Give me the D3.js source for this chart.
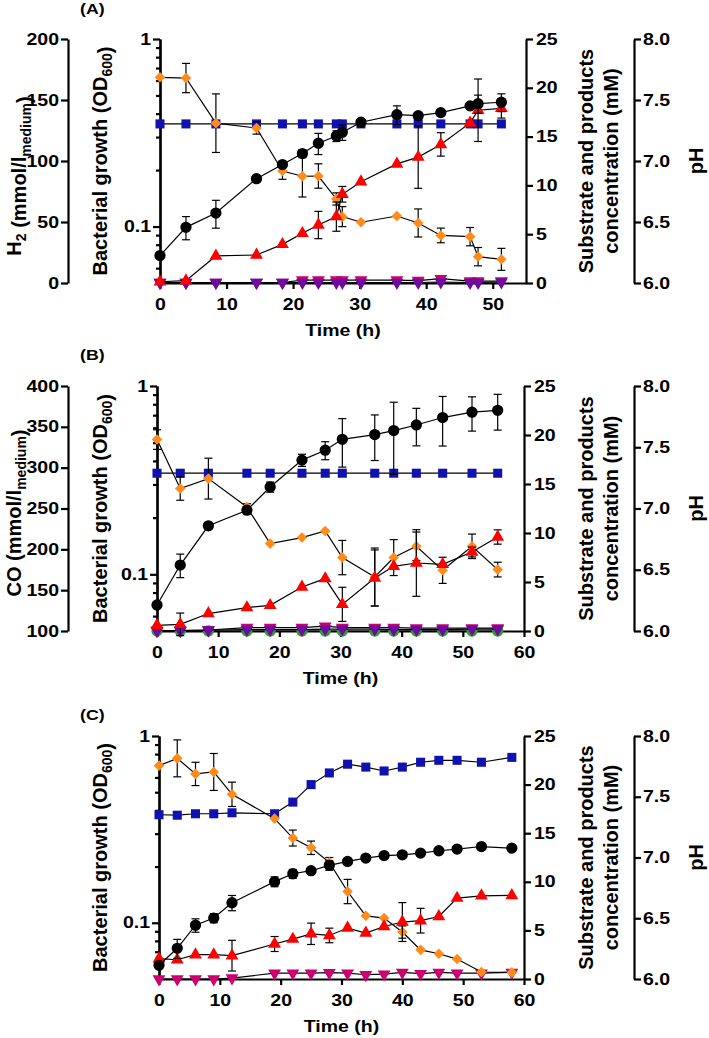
<!DOCTYPE html>
<html>
<head>
<meta charset="utf-8">
<script src="https://cdn.jsdelivr.net/npm/d3@7"></script>
<style>
body { margin: 0; background: #fff; }
svg text { font-family: "Liberation Sans", Arial, sans-serif; font-weight: bold; fill: #000; }
</style>
</head>
<body>
<svg id="chart" width="709" height="1038"></svg>
<script>
// ---- panel A (H2) ----
var tA = [0, 3.9, 8.4, 14.5, 18.4, 21.4, 23.8, 26.5, 27.4, 30.2, 35.6, 38.8, 42.2, 46.6, 47.8, 51.3];
var odA = [0.07, 0.099, 0.118, 0.18, 0.214, 0.245, 0.278, 0.304, 0.318, 0.36, 0.395, 0.39, 0.405, 0.44, 0.452, 0.46];
var odAErr = [0, 0.014, 0.02, 0, 0, 0.012, 0.036, 0.02, 0.03, 0, 0.045, 0, 0, 0, 0.05, 0.05];
var sqA = [16.3, 16.3, 16.3, 16.3, 16.3, 16.3, 16.3, 16.3, 16.3, 16.3, 16.3, 16.3, 16.3, 16.3, 16.3, 16.3];
var dmA = [168.6, 168, 131, 127, 91.8, 87.5, 87.7, 68.9, 54.4, 49.8, 54.9, 49.2, 39, 38, 21.6, 19.4];
var dmAErr = [0, 12, 24, 5, 6.8, 17, 10, 5, 8.2, 0, 0, 11.5, 6, 7.5, 7.5, 9];
var trA = [0.13, 0.24, 2.77, 2.87, 3.96, 5.09, 5.94, 6.8, 9.09, 10.38, 12.2, 12.9, 14.2, 16.4, 17.7, 17.9];
var trAErr = [0, 0, 0, 0, 0, 0, 1.4, 1.5, 0.8, 0, 0, 3.2, 1.2, 0, 3.2, 1];
var dnA = [0.05, 0.05, 0.05, 0.05, 0.05, 0.05, 0.05, 0.05, 0.05, 0.05, 0.05, 0.05, 0.1, 0.05, 0.05, 0.1];
var mgA = [0.05, 0.05, 0.05, 0.05, 0.05, 0.3, 0.3, 0.3, 0.3, 0.3, 0.3, 0.25, 0.45, 0.2, 0.2, 0.2];

// ---- panel B (CO) ----
var tB = [0, 3.8, 8.4, 14.7, 18.5, 23.7, 27.5, 30.3, 35.6, 38.7, 42.4, 46.7, 51.5, 55.7];
var odB = [0.0687, 0.112, 0.181, 0.219, 0.291, 0.404, 0.456, 0.521, 0.552, 0.58, 0.621, 0.68, 0.726, 0.743];
var odBErr = [0, 0.016, 0, 0.01, 0.018, 0.03, 0.05, 0.15, 0.15, 0.24, 0.14, 0.2, 0.15, 0.16];
var sqB = [16.1, 16.1, 16.1, 16.1, 16.1, 16.1, 16.1, 16.1, 16.1, 16.1, 16.1, 16.1, 16.1, 16.1];
var dmB = [334.4, 274.4, 286.6, 251.8, 207, 214.4, 222.5, 189.9, 166.1, 189.9, 203.7, 174.3, 203.7, 175.2];
var dmBErr = [12, 14.3, 25, 4, 0, 0, 0, 21, 35.5, 22, 17.5, 16, 15, 9];
var trB = [0.58, 0.68, 1.78, 2.39, 2.62, 4.49, 5.35, 2.72, 5.41, 6.6, 6.94, 6.8, 8.06, 9.59];
var trBErr = [0, 1.15, 0, 0, 0, 0, 0, 1.74, 2.86, 0, 3.4, 0, 0.5, 0.73];
var ciB = [0, 0, 0, 0, 0, 0, 0, 0, 0, 0, 0, 0, 0, 0];
var dnB = [0.05, 0.05, 0.1, 0.15, 0.15, 0.15, 0.2, 0.2, 0.2, 0.15, 0.15, 0.15, 0.2, 0.2];
var mgB = [0.05, 0.05, 0.1, 0.35, 0.35, 0.35, 0.5, 0.35, 0.35, 0.35, 0.3, 0.3, 0.3, 0.3];

// ---- panel C ----
var tC = [0, 3, 6, 9, 12, 19, 22, 25, 28, 31, 34, 37, 40, 43, 46, 49, 53, 58];
var odC = [0.0592, 0.073, 0.097, 0.106, 0.128, 0.166, 0.183, 0.19, 0.203, 0.213, 0.222, 0.229, 0.231, 0.236, 0.243, 0.248, 0.256, 0.251];
var odCErr = [0, 0.0085, 0.008, 0.006, 0.012, 0.01, 0.01, 0, 0.012, 0, 0, 0, 0, 0, 0, 0, 0, 0];
var sqC = [16.9, 16.85, 17.0, 17.0, 17.1, 17.0, 18.2, 20.0, 21.2, 22.1, 21.8, 21.4, 21.8, 22.3, 22.5, 22.5, 22.3, 22.8];
var dmC = [21.95, 22.7, 21.1, 21.3, 19.0, 16.5, 14.5, 13.5, 12.0, 9.0, 6.5, 6.27, 4.83, 3.0, 2.6, 2.05, 0.72, 0.68];
var dmCErr = [0, 1.9, 1.2, 1.9, 1.25, 0, 0.82, 0.69, 0.5, 1.25, 0, 0, 0.63, 0, 0, 0, 0, 0];
var trC = [2.09, 1.98, 2.5, 2.5, 2.4, 3.6, 4.1, 4.65, 4.48, 5.24, 4.73, 5.4, 5.86, 6.0, 6.43, 8.32, 8.56, 8.6];
var trCErr = [0, 0, 0, 0, 1.58, 0.77, 0, 1.1, 0.75, 0, 0, 0, 2.0, 1.27, 0, 0, 0, 0];
var mgC = [0, 0, 0, 0, 0.1, 0.6, 0.6, 0.6, 0.65, 0.6, 0.44, 0.5, 0.68, 0.55, 0.68, 0.6, 0.6, 0.68];

// tick labels
var xTicksA = [0, 10, 20, 30, 40, 50];
var xTicks = [0, 10, 20, 30, 40, 50, 60];
var odTicks = [0.1, 1];
var odMinor = [0.06, 0.07, 0.08, 0.09, 0.2, 0.3, 0.4, 0.5, 0.6, 0.7, 0.8, 0.9];
var concTicks = [0, 5, 10, 15, 20, 25];
var phTicks = [6.0, 6.5, 7.0, 7.5, 8.0];
var h2Ticks = [0, 50, 100, 150, 200];
var coTicks = [100, 150, 200, 250, 300, 350, 400];

var SX = 1.22; // upright text in the figure is stretched sideways
var svg = d3.select("#chart");

var colors = {
    black: "#000000",
    blue: "#1111b0",
    orange: "#ff8c1a",
    red: "#ff0000",
    purple: "#6e0aa0",
    magenta: "#cc0070",
    green: "#2ca02c"
};

function styleAxis(g) {
    g.select(".domain").attr("stroke-width", 2.2);
    g.selectAll(".tick line").attr("stroke-width", 2.2);
    g.selectAll("text").style("font-size", "16px").attr("transform", "scale(" + SX + ",1)");
}

function symbolPath(shape) {
    if (shape == "circle") return d3.symbol(d3.symbolCircle, 100)();
    if (shape == "square") return d3.symbol(d3.symbolSquare, 82)();
    if (shape == "diamond") return d3.symbol(d3.symbolSquare, 56)();
    return d3.symbol(d3.symbolTriangle, 72)();
}
function symbolRot(shape) {
    if (shape == "diamond") return 45;
    if (shape == "down") return 180;
    return 0;
}

function rotLabel(x, y, parts, size) {
    var t = svg.append("text")
        .attr("transform", "translate(" + x + "," + y + ") rotate(-90)")
        .attr("text-anchor", "middle")
        .attr("dy", "0.35em")
        .style("font-size", size + "px");
    parts.forEach(function(p) {
        if (p.sub) {
            t.append("tspan").attr("dy", 5).style("font-size", (size * 0.7) + "px").text(p.s);
            t.append("tspan").attr("dy", -5).text("");
        } else {
            t.append("tspan").text(p.s);
        }
    });
}

function flatText(x, y, s, size, anchor) {
    svg.append("text")
        .attr("transform", "translate(" + x + "," + y + ") scale(" + SX + ",1)")
        .attr("text-anchor", anchor || "middle")
        .attr("dy", "0.35em")
        .style("font-size", size + "px")
        .text(s);
}

function drawPanel(p) {
    var x = d3.scaleLinear().domain([0, p.xMax]).range([p.left, p.right]);
    var yOD = d3.scaleLog().domain([0.05, 1]).range([p.bottom, p.top]);
    var yConc = d3.scaleLinear().domain([0, 25]).range([p.bottom, p.top]);
    var yPH = d3.scaleLinear().domain([6, 8]).range([p.bottom, p.top]);
    var yGas = p.gas ? d3.scaleLinear().domain(p.gas.domain).range([p.bottom, p.top]) : null;
    var scales = { od: yOD, conc: yConc, gas: yGas };

    // x axis
    svg.append("g")
        .attr("transform", "translate(0," + p.bottom + ")")
        .call(d3.axisBottom(x).tickValues(p.xTicks).tickSize(6).tickSizeOuter(0).tickFormat(d3.format("d")))
        .call(styleAxis)
        .call(function(g) { g.selectAll("text").attr("y", 21).attr("dy", "0.35em"); });

    // OD axis (log)
    svg.append("g")
        .attr("transform", "translate(" + p.left + ",0)")
        .call(d3.axisLeft(yOD).tickValues(odMinor).tickSize(4).tickSizeOuter(0).tickFormat(""))
        .call(styleAxis);
    svg.append("g")
        .attr("transform", "translate(" + p.left + ",0)")
        .call(d3.axisLeft(yOD).tickValues(odTicks).tickSize(7).tickSizeOuter(0).tickFormat(d3.format("")))
        .call(styleAxis)
        .call(function(g) { g.selectAll("text").attr("x", -9 / SX); });

    // concentration axis
    svg.append("g")
        .attr("transform", "translate(" + p.right + ",0)")
        .call(d3.axisRight(yConc).tickValues(concTicks).tickSize(7).tickSizeOuter(0))
        .call(styleAxis)
        .call(function(g) { g.selectAll("text").attr("x", 10 / SX); });

    // pH axis
    svg.append("g")
        .attr("transform", "translate(" + p.phX + ",0)")
        .call(d3.axisRight(yPH).tickValues(phTicks).tickSize(7).tickSizeOuter(0).tickFormat(d3.format(".1f")))
        .call(styleAxis)
        .call(function(g) { g.selectAll("text").attr("x", 9 / SX); });

    // gas axis
    if (p.gas) {
        svg.append("g")
            .attr("transform", "translate(" + p.gas.x + ",0)")
            .call(d3.axisLeft(yGas).tickValues(p.gas.ticks).tickSize(7).tickSizeOuter(0))
            .call(styleAxis)
            .call(function(g) { g.selectAll("text").attr("x", -9 / SX); });
        rotLabel(14, p.gas.labelY, p.gas.label, 20);
    }

    var mid = (p.top + p.bottom) / 2;
    rotLabel(100, mid, [{ s: "Bacterial growth (OD" }, { s: "600", sub: true }, { s: ")" }], 20);
    rotLabel(586, mid, [{ s: "Substrate and products" }], 20);
    rotLabel(611, mid, [{ s: "concentration (mM)" }], 20);
    rotLabel(696, mid, [{ s: "pH" }], 20);
    flatText((p.left + p.right) / 2, p.bottom + 47, "Time (h)", 16);
    flatText(80, p.tagY, p.tag, 14.5, "start");

    // series
    p.series.forEach(function(s) {
        var y = scales[s.axis];
        var pts = s.t.map(function(t, i) { return { t: t, v: s.v[i], e: s.err ? s.err[i] : 0 }; });
        var g = svg.append("g");
        g.append("path")
            .datum(pts)
            .attr("fill", "none")
            .attr("stroke", "#000")
            .attr("stroke-width", 1.2)
            .attr("d", d3.line().x(function(d) { return x(d.t); }).y(function(d) { return y(d.v); }));
        var eb = g.selectAll(".eb").data(pts.filter(function(d) { return d.e > 0; })).enter().append("g")
            .attr("stroke", "#000").attr("stroke-width", 1.2);
        function lo(d) { return y(s.axis == "od" ? Math.max(d.v - d.e, 0.05) : d.v - d.e); }
        function hi(d) { return y(d.v + d.e); }
        eb.append("line").attr("x1", function(d) { return x(d.t); }).attr("x2", function(d) { return x(d.t); })
            .attr("y1", lo).attr("y2", hi);
        eb.append("line").attr("x1", function(d) { return x(d.t) - 4; }).attr("x2", function(d) { return x(d.t) + 4; })
            .attr("y1", hi).attr("y2", hi);
        eb.append("line").attr("x1", function(d) { return x(d.t) - 4; }).attr("x2", function(d) { return x(d.t) + 4; })
            .attr("y1", lo).attr("y2", lo);
        g.selectAll(".pt").data(pts).enter().append("path")
            .attr("d", symbolPath(s.shape))
            .attr("transform", function(d) { return "translate(" + x(d.t) + "," + y(d.v) + ") rotate(" + symbolRot(s.shape) + ")"; })
            .attr("fill", s.color);
    });
}

drawPanel({
    top: 39, bottom: 283, left: 160, right: 526, phX: 634, xMax: 55, xTicks: xTicksA,
    tag: "(A)", tagY: 9,
    gas: { x: 68, domain: [0, 200], ticks: h2Ticks, labelY: 176,
           label: [{ s: "H" }, { s: "2", sub: true }, { s: " (mmol/l" }, { s: "medium", sub: true }, { s: ")" }] },
    series: [
        { t: tA, v: mgA, axis: "conc", shape: "down", color: colors.magenta },
        { t: tA, v: dnA, axis: "conc", shape: "down", color: colors.purple },
        { t: tA, v: sqA, axis: "conc", shape: "square", color: colors.blue },
        { t: tA, v: dmA, err: dmAErr, axis: "gas", shape: "diamond", color: colors.orange },
        { t: tA, v: trA, err: trAErr, axis: "conc", shape: "tri", color: colors.red },
        { t: tA, v: odA, err: odAErr, axis: "od", shape: "circle", color: colors.black }
    ]
});

drawPanel({
    top: 386, bottom: 631, left: 157, right: 524, phX: 634, xMax: 60, xTicks: xTicks,
    tag: "(B)", tagY: 355,
    gas: { x: 68, domain: [100, 400], ticks: coTicks, labelY: 513,
           label: [{ s: "CO (mmol/l" }, { s: "medium", sub: true }, { s: ")" }] },
    series: [
        { t: tB, v: ciB, axis: "conc", shape: "circle", color: colors.green },
        { t: tB, v: mgB, axis: "conc", shape: "down", color: colors.magenta },
        { t: tB, v: dnB, axis: "conc", shape: "down", color: colors.purple },
        { t: tB, v: sqB, axis: "conc", shape: "square", color: colors.blue },
        { t: tB, v: dmB, err: dmBErr, axis: "gas", shape: "diamond", color: colors.orange },
        { t: tB, v: trB, err: trBErr, axis: "conc", shape: "tri", color: colors.red },
        { t: tB, v: odB, err: odBErr, axis: "od", shape: "circle", color: colors.black }
    ]
});

drawPanel({
    top: 736, bottom: 979, left: 159, right: 524, phX: 634, xMax: 60, xTicks: xTicks,
    tag: "(C)", tagY: 715,
    gas: null,
    series: [
        { t: tC, v: mgC, axis: "conc", shape: "down", color: colors.magenta },
        { t: tC, v: sqC, axis: "conc", shape: "square", color: colors.blue },
        { t: tC, v: dmC, err: dmCErr, axis: "conc", shape: "diamond", color: colors.orange },
        { t: tC, v: trC, err: trCErr, axis: "conc", shape: "tri", color: colors.red },
        { t: tC, v: odC, err: odCErr, axis: "od", shape: "circle", color: colors.black }
    ]
});
</script>
</body>
</html>
